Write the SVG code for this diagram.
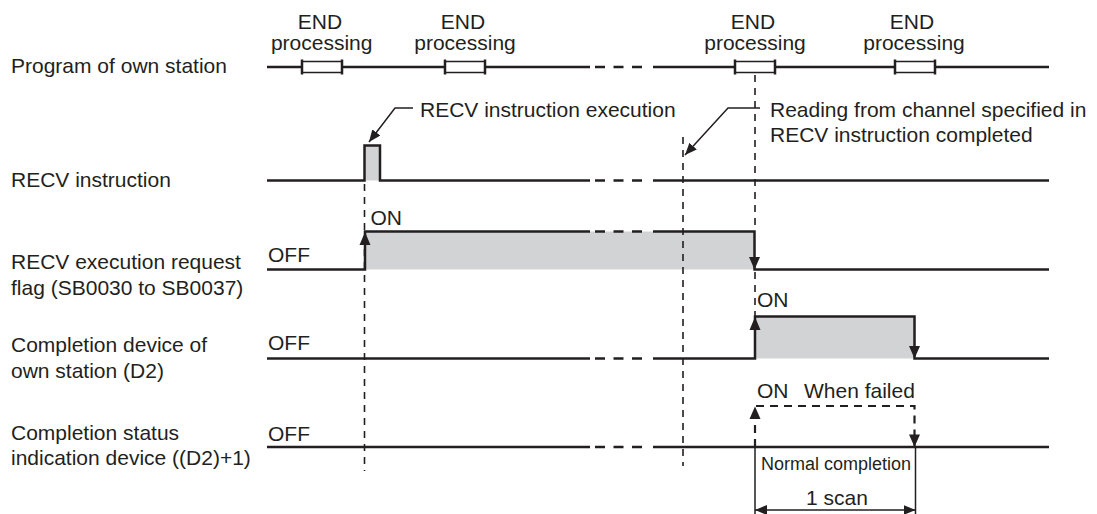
<svg xmlns="http://www.w3.org/2000/svg" width="1097" height="514" viewBox="0 0 1097 514">
<style>
text{font-family:"Liberation Sans",Arial,Helvetica,sans-serif;font-size:21px;fill:#231f20}
.c{text-anchor:middle}
.sig{fill:none;stroke:#231f20;stroke-width:2.5}
.dsh{fill:none;stroke:#231f20;stroke-width:2.5;stroke-dasharray:10 8.5}
.vd{fill:none;stroke:#231f20;stroke-width:1.6;stroke-dasharray:7 6}
.thin{fill:none;stroke:#231f20;stroke-width:1.5}
.box{fill:#fff;stroke:#231f20;stroke-width:1.5}
.tick{stroke:#231f20;stroke-width:2.5}
.fill{fill:#d1d3d4;stroke:none}
.ah{fill:#231f20}
</style>
<defs>
<marker id="arr" viewBox="0 0 12 10" refX="12" refY="5" markerWidth="12" markerHeight="10" markerUnits="userSpaceOnUse" orient="auto-start-reverse">
<path d="M0,0 L12,5 L0,10 z" fill="#231f20"/>
</marker>
</defs>

<g id="labels">
<text x="11" y="72.5">Program of own station</text>
<text x="11" y="187">RECV instruction</text>
<text x="11" y="268.5">RECV execution request</text>
<text x="11" y="295">flag (SB0030 to SB0037)</text>
<text x="11" y="351.5">Completion device of</text>
<text x="11" y="377.5">own station (D2)</text>
<text x="11" y="440">Completion status</text>
<text x="11" y="465">indication device ((D2)+1)</text>
</g>

<g id="program-row">
<line class="sig" x1="267" y1="67" x2="590" y2="67"/>
<line class="dsh" x1="595" y1="67" x2="643" y2="67"/>
<line class="sig" x1="653" y1="67" x2="1049" y2="67"/>
<rect class="box" x="302" y="61.5" width="40" height="11"/>
<line class="tick" x1="302" y1="59.5" x2="302" y2="74.5"/><line class="tick" x1="342" y1="59.5" x2="342" y2="74.5"/>
<rect class="box" x="445" y="61.5" width="40" height="11"/>
<line class="tick" x1="445" y1="59.5" x2="445" y2="74.5"/><line class="tick" x1="485" y1="59.5" x2="485" y2="74.5"/>
<rect class="box" x="735" y="61.5" width="40" height="11"/>
<line class="tick" x1="735" y1="59.5" x2="735" y2="74.5"/><line class="tick" x1="775" y1="59.5" x2="775" y2="74.5"/>
<rect class="box" x="895" y="61.5" width="40" height="11"/>
<line class="tick" x1="895" y1="59.5" x2="895" y2="74.5"/><line class="tick" x1="935" y1="59.5" x2="935" y2="74.5"/>
<text class="c" x="320" y="28.5">END</text><text class="c" x="321.7" y="50">processing</text>
<text class="c" x="463" y="28.5">END</text><text class="c" x="465" y="50">processing</text>
<text class="c" x="753" y="28.5">END</text><text class="c" x="755" y="50">processing</text>
<text class="c" x="912" y="28.5">END</text><text class="c" x="914" y="50">processing</text>
</g>

<g id="recv-row">
<rect class="fill" x="364.5" y="145.5" width="15.5" height="35"/>
<polyline class="sig" points="267,180.5 364.5,180.5 364.5,145.5 380,145.5 380,180.5 590,180.5"/>
<line class="dsh" x1="595" y1="180.5" x2="643" y2="180.5"/>
<line class="sig" x1="653" y1="180.5" x2="1049" y2="180.5"/>
</g>

<g id="flag-row">
<rect class="fill" x="365" y="231.5" width="389.5" height="38"/>
<polyline class="sig" points="267,269.5 365,269.5 365,231.5 590,231.5"/>
<line class="dsh" x1="595" y1="231.5" x2="643" y2="231.5"/>
<polyline class="sig" points="653,231.5 754.5,231.5 754.5,269.5 1049,269.5"/>
<polygon class="ah" points="365,232 359.5,245 370.5,245"/>
<polygon class="ah" points="754.5,269.5 749,257 760,257"/>
<text x="268" y="262">OFF</text>
<text x="370.5" y="225">ON</text>
</g>

<g id="completion-row">
<rect class="fill" x="755" y="316.5" width="159.5" height="42"/>
<line class="sig" x1="267" y1="358.5" x2="590" y2="358.5"/>
<line class="dsh" x1="595" y1="358.5" x2="643" y2="358.5"/>
<polyline class="sig" points="653,358.5 755,358.5 755,316.5 914.5,316.5 914.5,358.5 1049,358.5"/>
<polygon class="ah" points="755,317 749.5,330 760.5,330"/>
<polygon class="ah" points="914.5,358.5 909,346 920,346"/>
<text x="268" y="350">OFF</text>
<text x="757" y="307">ON</text>
</g>

<g id="status-row">
<line class="sig" x1="267" y1="447" x2="590" y2="447"/>
<line class="dsh" x1="595" y1="447" x2="643" y2="447"/>
<line class="sig" x1="653" y1="447" x2="1049" y2="447"/>
<polyline points="755,447 755,406 914.5,406 914.5,447" fill="none" stroke="#231f20" stroke-width="2.2" stroke-dasharray="8 6"/>
<polygon class="ah" points="755,406.5 749.5,419 760.5,419"/>
<polygon class="ah" points="914.5,447 909,434.5 920,434.5"/>
<text x="268" y="441">OFF</text>
<text x="757" y="397.5">ON</text>
<text x="804" y="397.5">When failed</text>
</g>

<g id="connectors">
<line class="vd" x1="364.5" y1="184" x2="364.5" y2="471"/>
<line class="vd" x1="683" y1="137" x2="683" y2="466"/>
<line class="vd" x1="755" y1="75" x2="755" y2="231"/>
<line class="vd" x1="755" y1="272" x2="755" y2="316"/>
<polyline class="thin" points="413,108 395,108 369,142" marker-end="url(#arr)"/>
<polyline class="thin" points="760,108 728,108 685,155" marker-end="url(#arr)"/>
<line class="thin" x1="755" y1="447" x2="755" y2="514"/>
<line class="thin" x1="915.5" y1="447" x2="915.5" y2="514"/>
<line class="thin" x1="755" y1="510" x2="915.5" y2="510" marker-start="url(#arr)" marker-end="url(#arr)"/>
</g>

<g id="annotations">
<text x="420" y="116.5">RECV instruction execution</text>
<text x="770" y="117">Reading from channel specified in</text>
<text x="770" y="142">RECV instruction completed</text>
<text x="761" y="470" style="font-size:18px" textLength="150" lengthAdjust="spacingAndGlyphs">Normal completion</text>
<text class="c" x="837" y="505">1 scan</text>
</g>
</svg>
